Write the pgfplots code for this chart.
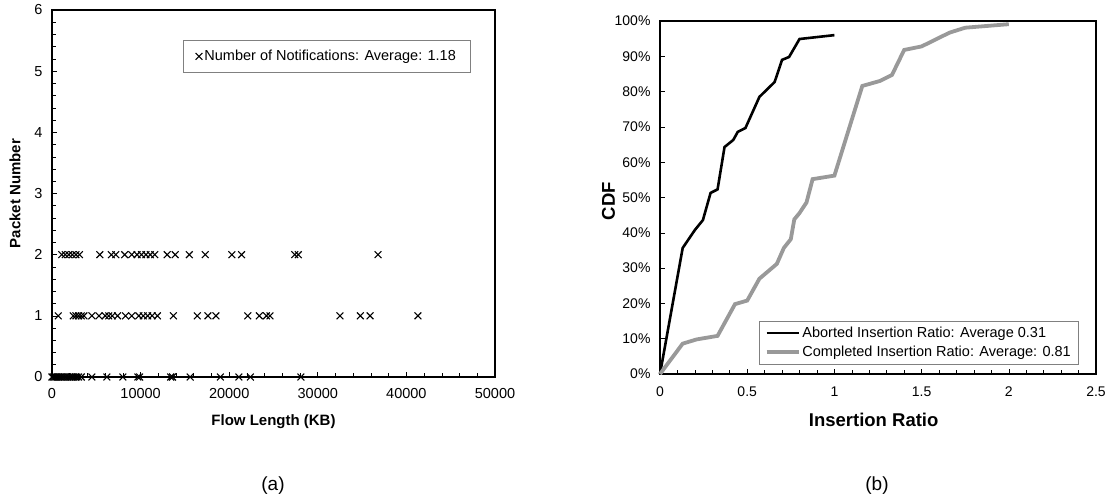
\documentclass[border=0pt]{standalone}
\usepackage{pgfplots}
\pgfplotsset{compat=1.18}
\usepackage{fontspec}
\setmainfont{Liberation Sans}
\definecolor{cgray}{rgb}{0.6,0.6,0.6}
\begin{document}
\begin{tikzpicture}
\useasboundingbox (0pt,0pt) rectangle (1108pt,-501pt);
\begin{axis}[
  at={(52pt,-10pt)}, anchor=north west, scale only axis,
  width=443pt, height=367pt,
  xmin=0, xmax=50000, ymin=0, ymax=6,
  xtick={0,10000,20000,30000,40000,50000},
  ytick={0,1,2,3,4,5,6},
  minor x tick num=4, minor y tick num=4,
  tick align=inside, xtick pos=left, ytick pos=left,
  major tick length=5pt, minor tick length=4pt,
  every tick/.style={black, line width=0.6pt},
  axis line style={line width=1.6pt},
  scaled x ticks=false,
  /pgf/number format/assume math mode=true,
  /pgf/number format/1000 sep={},
  tick label style={font=\fontsize{14.5}{17}\selectfont},
  xticklabel style={yshift=-8pt},
  yticklabel style={xshift=-6pt},
  clip=false,
  every axis x label/.style={at={(axis description cs:0.5,-0.1226)}, anchor=center},
  every axis y label/.style={at={(axis description cs:-0.0835,0.5)}, anchor=center, rotate=90},
  xlabel={\fontsize{15}{18}\selectfont\bfseries Flow Length (KB)},
  ylabel={\fontsize{15}{18}\selectfont\bfseries Packet Number},
  legend style={at={(0.944,0.918)}, anchor=north east, draw=gray, line width=0.6pt,
    font=\fontsize{14.5}{17}\selectfont, inner xsep=12pt, inner ysep=8pt},
  legend cell align=left,
]
\addplot[only marks, mark=x, mark size=4.8pt, black, line width=1.1pt] coordinates {
(0,0) (150,0) (300,0) (450,0) (600,0) (750,0) (900,0) (1050,0) (1200,0) (1400,0)
(1600,0) (1800,0) (2000,0) (2200,0) (2400,0) (2600,0) (2800,0) (3000,0) (3300,0)
(4500,0) (6200,0) (8000,0) (9700,0) (9900,0) (13400,0) (13600,0) (15600,0) (19000,0)
(21100,0) (22400,0) (28100,0)
(700,1) (2400,1) (2700,1) (3000,1) (3300,1) (3600,1) (4500,1) (5300,1) (6000,1)
(6400,1) (6800,1) (7400,1) (8300,1) (9000,1) (9800,1) (10300,1) (10800,1) (11300,1)
(11900,1) (13700,1) (16400,1) (17600,1) (18500,1) (22100,1) (23400,1) (24200,1)
(24600,1) (32500,1) (34800,1) (35900,1) (41300,1)
(1100,2) (1500,2) (1900,2) (2300,2) (2700,2) (3100,2) (5400,2) (6700,2) (7200,2)
(8200,2) (9000,2) (9600,2) (10100,2) (10600,2) (11100,2) (11600,2) (13000,2)
(13900,2) (15500,2) (17300,2) (20300,2) (21400,2) (27400,2) (27800,2) (36800,2)
};
\addlegendentry{Number of Notifications: Average: 1.18}
\end{axis}
\node[font=\fontsize{19}{22}\selectfont] at (273pt,-486pt) {(a)};

\begin{axis}[
  at={(660pt,-21pt)}, anchor=north west, scale only axis,
  width=436pt, height=353pt,
  xmin=0, xmax=2.5, ymin=0, ymax=100,
  xtick={0,0.5,1,1.5,2,2.5},
  xticklabels={0,0.5,1,1.5,2,2.5},
  ytick={0,10,20,30,40,50,60,70,80,90,100},
  yticklabels={0\%,10\%,20\%,30\%,40\%,50\%,60\%,70\%,80\%,90\%,100\%},
  minor x tick num=4,
  tick align=inside, xtick pos=left, ytick pos=left,
  major tick length=5pt, minor tick length=4pt,
  every tick/.style={black, line width=0.6pt},
  axis line style={line width=1.6pt},
  /pgf/number format/assume math mode=true,
  tick label style={font=\fontsize{14}{17}\selectfont},
  xticklabel style={yshift=-9pt},
  yticklabel style={xshift=-6pt},
  clip=false,
  every axis x label/.style={at={(axis description cs:0.49,-0.130)}, anchor=center},
  every axis y label/.style={at={(axis description cs:-0.118,0.49)}, anchor=center, rotate=90},
  xlabel={\fontsize{18.5}{22}\selectfont\bfseries Insertion Ratio},
  ylabel={\fontsize{18.5}{22}\selectfont\bfseries CDF},
  legend style={at={(0.959,0.028)}, anchor=south east, draw=gray, line width=0.6pt,
    font=\fontsize{14.5}{17}\selectfont, inner xsep=5pt, inner ysep=4pt, row sep=3pt},
  legend cell align=left,
  legend image code/.code={\draw[#1] (0pt,0pt) -- (32pt,0pt);},
]
\addplot[black, line width=2.6pt] coordinates {
(0,0) (0.13,35.7) (0.2,40.8) (0.246,43.6) (0.29,51.3) (0.33,52.3) (0.37,64.3)
(0.42,66.3) (0.446,68.6) (0.49,69.7) (0.57,78.5) (0.657,82.7) (0.70,89) (0.74,89.8)
(0.80,94.9) (1.0,96)
};
\addlegendentry{Aborted Insertion Ratio: Average 0.31}
\addplot[cgray, line width=3.8pt] coordinates {
(0,0) (0.13,8.6) (0.21,9.8) (0.33,10.8) (0.43,19.8) (0.50,20.8) (0.57,27)
(0.67,31.2) (0.71,35.7) (0.75,38.2) (0.77,43.8) (0.80,45.6) (0.84,48.6) (0.875,55.2)
(1.0,56.2) (1.16,81.6) (1.26,83) (1.33,84.7) (1.40,91.8) (1.50,92.8) (1.66,96.7)
(1.75,98.1) (2.0,99.1)
};
\addlegendentry{Completed Insertion Ratio: Average: 0.81}
\end{axis}
\node[font=\fontsize{19}{22}\selectfont] at (877pt,-486pt) {(b)};
\end{tikzpicture}
\end{document}
